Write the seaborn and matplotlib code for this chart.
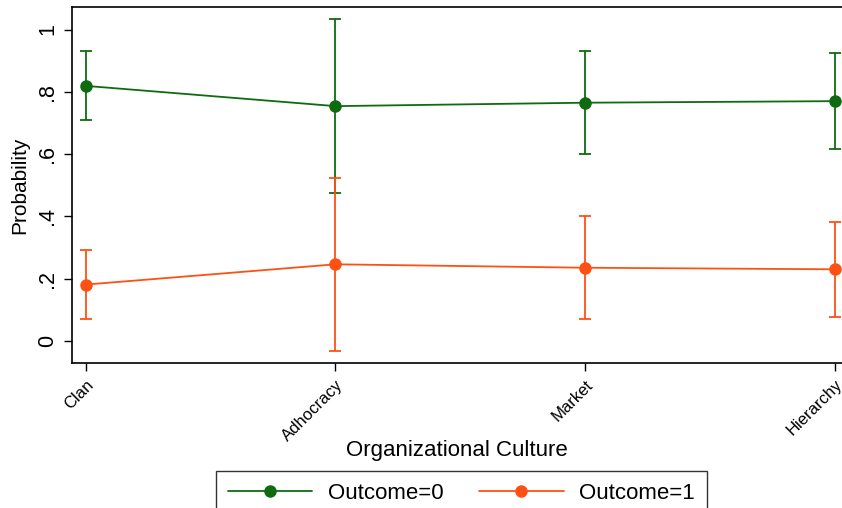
import numpy as np
import pandas as pd
import matplotlib
matplotlib.use("Agg")
import matplotlib.pyplot as plt
import seaborn as sns
from matplotlib.lines import Line2D

# Predicted probabilities by organizational culture, with 95% CIs
cultures = ["Clan", "Adhocracy", "Market", "Hierarchy"]
p_out0 = [0.819, 0.754, 0.765, 0.770]
lo_out0 = [0.709, 0.476, 0.600, 0.617]
hi_out0 = [0.930, 1.033, 0.931, 0.924]
p_out1 = [0.181, 0.246, 0.235, 0.230]
lo_out1 = [0.069, -0.032, 0.069, 0.076]
hi_out1 = [0.292, 0.523, 0.401, 0.383]
series_labels = ["Outcome=0", "Outcome=1"]
yticks = [0, 0.2, 0.4, 0.6, 0.8, 1.0]
ytick_labels = ["0", ".2", ".4", ".6", ".8", "1"]

colors = ["#0f6b0f", "#ff5014"]

sns.set_theme(style="white")
plt.rcParams["font.family"] = ["Liberation Sans", "DejaVu Sans"]
plt.rcParams.update({"text.color": "black", "axes.labelcolor": "black",
                     "xtick.color": "black", "ytick.color": "black"})

xpos = np.arange(len(cultures))
df = pd.DataFrame({
    "x": np.concatenate([xpos, xpos]),
    "p": p_out0 + p_out1,
    "lo": lo_out0 + lo_out1,
    "hi": hi_out0 + hi_out1,
    "series": [series_labels[0]] * 4 + [series_labels[1]] * 4,
})

fig = plt.figure(figsize=(8.42, 5.08), dpi=100)
ax = fig.add_axes([0.0855, 0.2854, 0.9145, 0.7006])

sns.lineplot(data=df, x="x", y="p", hue="series", palette=colors,
             marker="o", markersize=9, markeredgewidth=0, linewidth=1.3,
             legend=False, ax=ax, zorder=3)

for (name, sub), c in zip(df.groupby("series", sort=False), colors):
    ax.errorbar(sub["x"], sub["p"],
                yerr=[sub["p"] - sub["lo"], sub["hi"] - sub["p"]],
                fmt="none", ecolor=c, elinewidth=1.3, capsize=4.5,
                capthick=1.3, zorder=2)

ax.set_xlim(-0.056, 3.03)
ax.set_ylim(-0.071, 1.072)
ax.set_xticks(xpos)
ax.set_xticklabels(cultures, rotation=45, ha="right", rotation_mode="anchor",
                   fontsize=12)
ax.set_yticks(yticks)
ax.set_yticklabels(ytick_labels, rotation=90, va="center", fontsize=15.5)
ax.tick_params(axis="both", which="both", direction="out", length=6,
               width=1, color="black", left=True, bottom=True, pad=4)
ax.set_xlabel("Organizational Culture", fontsize=16, va="top")
ax.xaxis.set_label_coords(0.5, -0.215)
ax.set_ylabel("Probability", fontsize=15, labelpad=6)

for s in ["left", "bottom", "top"]:
    ax.spines[s].set_color("black")
    ax.spines[s].set_linewidth(1.2)
ax.spines["right"].set_visible(False)

handles = [Line2D([0], [0], color=c, lw=1.3, marker="o", markersize=9,
                  markeredgewidth=0) for c in colors]
leg = fig.legend(handles, series_labels, loc="upper center",
                 bbox_to_anchor=(0.548, 0.073), borderaxespad=0, ncol=2,
                 fontsize=16, frameon=True, fancybox=False, edgecolor="black",
                 handlelength=3.8, columnspacing=1.6, borderpad=0.55,
                 handletextpad=0.7)
leg.get_frame().set_linewidth(1.0)

fig.savefig("out.png", dpi=100)
